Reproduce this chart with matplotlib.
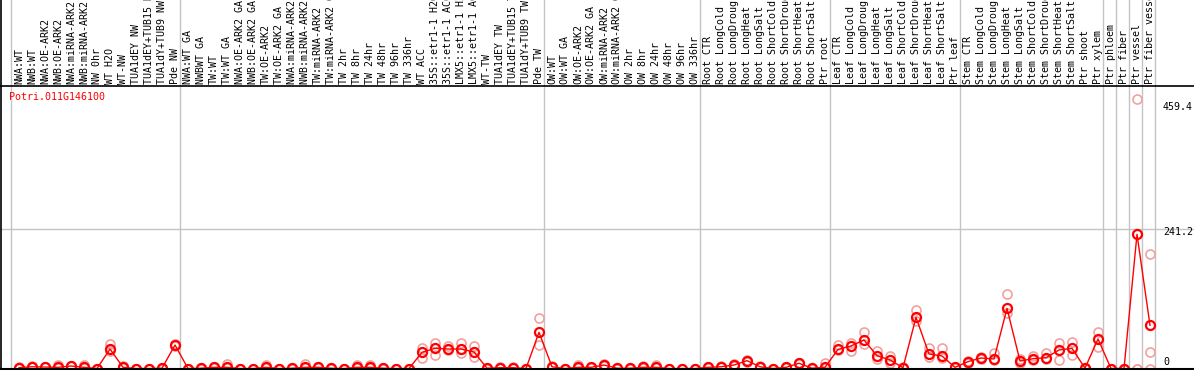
import numpy as np
import matplotlib
matplotlib.use("Agg")
import matplotlib.pyplot as plt
from matplotlib.lines import Line2D
from matplotlib.transforms import blended_transform_factory

# ---------------- data ----------------
gene_id = "Potri.011G146100"

group_nw = ["NWA:WT", "NWB:WT", "NWA:OE-ARK2", "NWB:OE-ARK2", "NWA:miRNA-ARK2",
            "NWB:miRNA-ARK2", "NW 0hr", "WT H2O", "WT-NW", "TUA1dEY NW",
            "TUA1dEY+TUB15 NW", "TUA1dY+TUB9 NW", "Pde NW"]
group_tw = ["NWA:WT GA", "NWBWT GA", "TW:WT", "TW:WT GA", "NWA:OE-ARK2 GA",
            "NWB:OE-ARK2 GA", "TW:OE-ARK2", "TW:OE-ARK2 GA", "NWA:miRNA-ARK2 GA",
            "NWB:miRNA-ARK2 GA", "TW:miRNA-ARK2", "TW:miRNA-ARK2 GA", "TW 2hr",
            "TW 8hr", "TW 24hr", "TW 48hr", "TW 96hr", "TW 336hr", "WT ACC",
            "35S::etr1-1 H2O", "35S::etr1-1 ACC", "LMX5::etr1-1 H2O",
            "LMX5::etr1-1 ACC", "WT-TW", "TUA1dEY TW", "TUA1dEY+TUB15 TW",
            "TUA1dY+TUB9 TW", "Pde TW"]
group_ow = ["OW:WT", "OW:WT GA", "OW:OE-ARK2", "OW:OE-ARK2 GA", "OW:miRNA-ARK2",
            "OW:miRNA-ARK2 GA", "OW 2hr", "OW 8hr", "OW 24hr", "OW 48hr",
            "OW 96hr", "OW 336hr"]
conds = ["CTR", "LongCold", "LongDrought", "LongHeat", "LongSalt", "ShortCold",
         "ShortDrought", "ShortHeat", "ShortSalt"]
group_root = ["Root " + c for c in conds] + ["Ptr root"]
group_leaf = ["Leaf " + c for c in conds] + ["Ptr leaf"]
group_stem = ["Stem " + c for c in conds] + ["Ptr shoot", "Ptr xylem"]
group_ptr = [["Ptr phloem"], ["Ptr fiber"], ["Ptr vessel"], ["Ptr fiber vessel"]]

groups = [group_nw, group_tw, group_ow, group_root, group_leaf, group_stem] + group_ptr
labels = [lab for g in groups for lab in g]

mean_vals = [1.4, 3, 2.5, 2, 4.3, 2, 0, 33.6, 2, 0, 0, 0.5, 40.5,
             0, 0.5, 2, 2, 0, 0, 2, 0, 0.5, 2, 2, 0.5, 0, 2, 2, 0.5, 0, 0,
             27.9, 34.8, 33.6, 33.6, 28.4, 0.5, 1.4, 1.4, 0, 62.4,
             3, 0, 2, 2, 6, 0.5, 0.5, 2, 2, 0, 0, 0,
             2, 3, 6, 13.5, 3, 0, 2, 9, 0.5, 2,
             33, 38.8, 49.1, 22.1, 14.7, 1.4, 88.2, 25, 21.6, 2,
             11.8, 18.1, 16.4, 103.7, 12.9, 16.9, 18.6, 31.9, 34.8, 0.5, 50.9,
             0, 0, 231.4, 74.5]

rep_high = [2, 4, 3, 6, 5, 6, 0, 42.2, 5, 0, 0, 1, 42,
            0, 1, 3, 7.8, 0, 0, 6, 0, 1, 7, 3, 1, 0, 6, 6, 1, 0, 0,
            36, 43.4, 39.4, 43.4, 39.4, 1, 2, 2, 0, 87.6,
            4, 0, 6, 3, 7, 1, 1, 5, 6, 0, 0, 0,
            3, 4, 7, 15, 4, 0, 3, 10, 1, 10,
            40.5, 44.5, 62.4, 30.2, 21.6, 2, 100.9, 34.8, 34.8, 3,
            13, 20, 26.1, 127.9, 15.8, 21.6, 27.3, 43.4, 45.2, 1, 62.4,
            0, 0, 464, 197.4]

rep_low = [1, 2, 2, 1, 3.5, 1, 0, 30.7, 1, 0, 0, 0, 39,
           0, 0, 1, 0.5, 0, 0, 1, 0, 0, 0.5, 1, 0, 0, 0.5, 0.5, 0, 0, 0,
           17.5, 23.3, 32, 26.1, 19.3, 0, 1, 1, 0, 40.5,
           2, 0, 1, 1, 5, 0, 0, 1, 1, 0, 0, 0,
           1, 2, 5, 12, 2, 0, 1, 8, 0, 0.5,
           32, 29.6, 42.2, 15.8, 9, 1, 82.5, 20.4, 17.5, 1,
           10, 16, 14, 95.1, 9, 15, 16, 14.7, 23.3, 0, 37.6,
           0, 0, 0, 27.9]

rep_third = [np.nan] * 86 + [0, 0]

y_ticks = [0, 241.2, 459.4]

# ---------------- figure ----------------
W, H = 1194, 370
fig = plt.figure(figsize=(W / 100, H / 100), dpi=100)
ax = fig.add_axes([0, 0, 1, 1])
ax.axis("off")

x = np.arange(len(labels))
px_per_col = 13.0
x0_px = 19.0
ax.set_xlim(-x0_px / px_per_col, (W - x0_px) / px_per_col)
y0_px, px_per_unit = 368.5, 0.58
ax.set_ylim(-(H - y0_px) / px_per_unit, y0_px / px_per_unit)

mono = "DejaVu Sans Mono"
fs = 7.2
grid_c = "#c4c4c4"

# group separators
bounds = np.concatenate([[0], np.cumsum([len(g) for g in groups])])
for b in bounds:
    ax.axvline(b - 8 / 13, color=grid_c, lw=1, zorder=1)

# horizontal reference line
ax.axhline(y_ticks[1], color=grid_c, lw=1, zorder=1)

# frame lines
top_frac = 1 - 85.5 / H
fig.add_artist(Line2D([0, 1], [top_frac, top_frac], color="black", lw=1.2,
                      transform=fig.transFigure))
fig.add_artist(Line2D([0, 1], [1 - 369 / H] * 2, color="black", lw=1.5,
                      transform=fig.transFigure))
fig.add_artist(Line2D([1.2 / W] * 2, [0, 1], color="black", lw=1.2,
                      transform=fig.transFigure))

# column labels (vertical, clipped at the top)
tr_lab = blended_transform_factory(ax.transData, fig.transFigure)
for xi, lab in zip(x, labels):
    ax.text(xi, 1 - 84 / H, lab, rotation=90, ha="center", va="bottom",
            fontsize=fs, family=mono, transform=tr_lab)

# gene id
fig.text(9 / W, 1 - 97 / H, gene_id, color="red", fontsize=fs, family=mono,
         ha="left", va="center")

# right-side scale labels
tr_r = blended_transform_factory(fig.transFigure, ax.transData)
ax.text(1163 / W, y_ticks[2], "459.4", ha="left", va="top", fontsize=fs,
        family=mono, transform=tr_r)
ax.text(1163 / W, y_ticks[1] + 3, "241.2", ha="left", va="top", fontsize=fs,
        family=mono, transform=tr_r)
ax.text(1163 / W, y_ticks[0] + 3, "0", ha="left", va="bottom", fontsize=fs,
        family=mono, transform=tr_r)

# replicates
pink = "#f2a0a0"
for reps in (rep_high, rep_low, rep_third):
    ax.plot(x, reps, "o", mfc="none", mec=pink, ms=6.5, mew=1.2, zorder=2)

# means
ax.plot(x, mean_vals, "-", color="red", lw=1, zorder=3)
ax.plot(x, mean_vals, "o", mfc="none", mec="red", ms=6.5, mew=1.6, zorder=4)

fig.savefig("out.png", dpi=100)
